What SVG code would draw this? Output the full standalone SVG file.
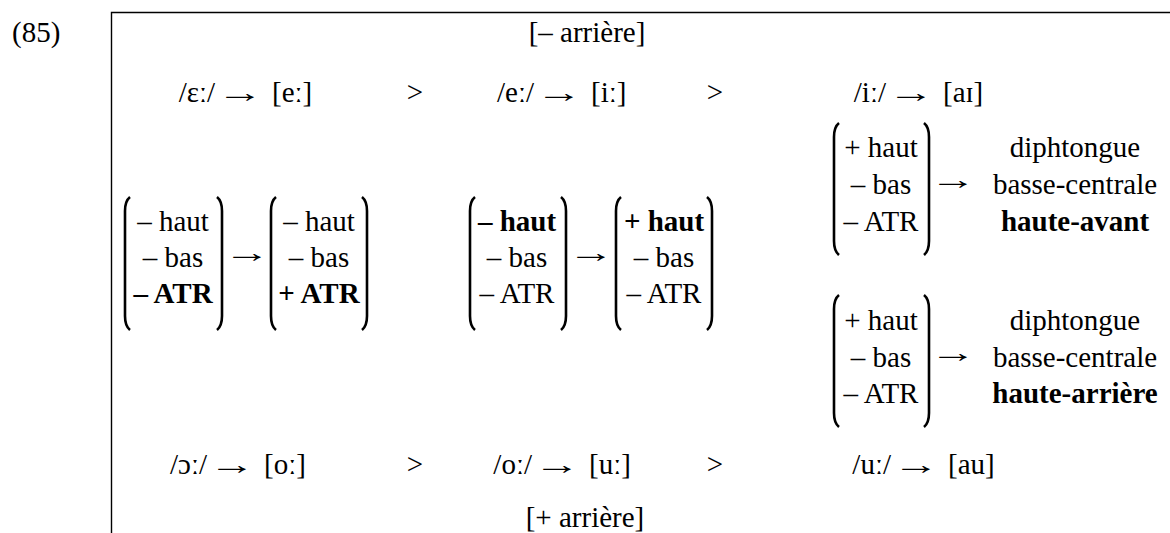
<svg xmlns="http://www.w3.org/2000/svg" width="1170" height="533" viewBox="0 0 1170 533">
<style>
text{font-family:"Liberation Serif","Times New Roman",serif;font-size:29px;fill:#000}
.c{text-anchor:middle}
.e{text-anchor:end}
.b{font-weight:bold}
.br{fill:none;stroke:#000;stroke-width:2.6}
.fr{fill:none;stroke:#000;stroke-width:1.4}
</style>
<rect width="1170" height="533" fill="#fff"/>
<g id="frame">
<path class="fr" d="M111.5,533 V12.5 H1170"/>
<text x="12" y="42">(85)</text>
</g>
<g id="labels">
<text class="c" x="587" y="42">[– arrière]</text>
<text class="c" x="585" y="527">[+ arrière]</text>
</g>
<g id="row-top">
<text class="e" x="215" y="102">/ɛː/</text>
<text class="c" transform="translate(240,102) scale(1.6,1)">→</text>
<text x="272" y="102">[eː]</text>
<text class="c" x="415" y="102">&gt;</text>
<text class="e" x="534" y="102">/eː/</text>
<text class="c" transform="translate(559,102) scale(1.6,1)">→</text>
<text x="591" y="102">[iː]</text>
<text class="c" x="715" y="102">&gt;</text>
<text class="e" x="886" y="102">/iː/</text>
<text class="c" transform="translate(911,102) scale(1.6,1)">→</text>
<text x="943" y="102">[aɪ]</text>
</g>
<g id="row-bottom">
<text class="e" x="207" y="474">/ɔː/</text>
<text class="c" transform="translate(232,474) scale(1.6,1)">→</text>
<text x="264" y="474">[oː]</text>
<text class="c" x="415" y="474">&gt;</text>
<text class="e" x="532" y="474">/oː/</text>
<text class="c" transform="translate(557,474) scale(1.6,1)">→</text>
<text x="589" y="474">[uː]</text>
<text class="c" x="715" y="474">&gt;</text>
<text class="e" x="891" y="474">/uː/</text>
<text class="c" transform="translate(916,474) scale(1.6,1)">→</text>
<text x="948" y="474">[au]</text>
</g>
<g id="m1">
<path class="br" d="M130,197 Q125,201 125,211 V316 Q125,326 130,330"/>
<path class="br" d="M217,197 Q222,201 222,211 V316 Q222,326 217,330"/>
<text class="c" x="173" y="231">– haut</text>
<text class="c" x="173" y="267">– bas</text>
<text class="c b" x="173" y="303">– ATR</text>
</g>
<g id="m2">
<path class="br" d="M276,197 Q271,201 271,211 V316 Q271,326 276,330"/>
<path class="br" d="M362,197 Q367,201 367,211 V316 Q367,326 362,330"/>
<text class="c" x="319" y="231">– haut</text>
<text class="c" x="319" y="267">– bas</text>
<text class="c b" x="319" y="303">+ ATR</text>
</g>
<g id="m3">
<path class="br" d="M475,197 Q470,201 470,211 V316 Q470,326 475,330"/>
<path class="br" d="M561,197 Q566,201 566,211 V316 Q566,326 561,330"/>
<text class="c b" x="517" y="231">– haut</text>
<text class="c" x="517" y="267">– bas</text>
<text class="c" x="517" y="303">– ATR</text>
</g>
<g id="m4">
<path class="br" d="M621,197 Q616,201 616,211 V316 Q616,326 621,330"/>
<path class="br" d="M707,197 Q712,201 712,211 V316 Q712,326 707,330"/>
<text class="c b" x="664" y="231">+ haut</text>
<text class="c" x="664" y="267">– bas</text>
<text class="c" x="664" y="303">– ATR</text>
</g>
<g id="m5">
<path class="br" d="M839,123 Q834,127 834,137 V241 Q834,251 839,255"/>
<path class="br" d="M924,123 Q929,127 929,137 V241 Q929,251 924,255"/>
<text class="c" x="881" y="157">+ haut</text>
<text class="c" x="881" y="194">– bas</text>
<text class="c" x="881" y="231">– ATR</text>
</g>
<g id="d1">
<text class="c" x="1075" y="157">diphtongue</text>
<text class="c" x="1075" y="194">basse-centrale</text>
<text class="c b" x="1075" y="231">haute-avant</text>
</g>
<g id="m6">
<path class="br" d="M839,295 Q834,299 834,309 V413 Q834,423 839,427"/>
<path class="br" d="M924,295 Q929,299 929,309 V413 Q929,423 924,427"/>
<text class="c" x="881" y="330">+ haut</text>
<text class="c" x="881" y="367">– bas</text>
<text class="c" x="881" y="403">– ATR</text>
</g>
<g id="d2">
<text class="c" x="1075" y="330">diphtongue</text>
<text class="c" x="1075" y="367">basse-centrale</text>
<text class="c b" x="1075" y="403">haute-arrière</text>
</g>
<g id="connectors">
<text class="c" transform="translate(247,262) scale(1.6,1)">→</text>
<text class="c" transform="translate(591,262) scale(1.6,1)">→</text>
<text class="c" transform="translate(953,189) scale(1.6,1)">→</text>
<text class="c" transform="translate(953,362) scale(1.6,1)">→</text>
</g>
</svg>
